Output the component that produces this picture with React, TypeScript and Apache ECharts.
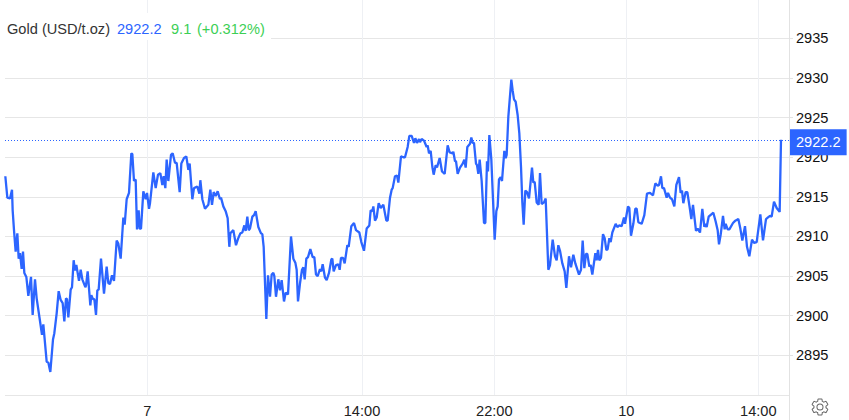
import React, { useEffect, useRef } from "react";
import * as echarts from "echarts";

const title = "Gold (USD/t.oz)";
const lastPrice = 2922.2;
const change = "9.1";
const changePct = "(+0.312%)";

// [position on the session scale, price]
const sessionA: number[][] = [
[16,2917.6],[22,2914.9],[30,2914.8],[36,2915.9],[38,2913.3],[42,2910.8],[47,2908.1],[52,2910.4],[56,2907.2],[60,2907.9],[65,2905.9],[69,2908.1],[73,2905.4],[79,2904.9],[85,2902.5],[93,2904.9],[98,2900.1],[105,2904.6],[110,2902.2],[118,2899.9],[126,2897.6],[130,2898.9],[133,2897.5],[140,2894.2],[145,2894.1],[151,2892.9],[159,2897],[163,2897.8],[170,2900.3],[176,2903.1],[182,2902],[188,2901.6],[193,2899.3],[198,2902.2],[201,2902.1],[205,2899.8],[212,2903.3],[216,2903.6],[221,2907],[225,2905.7],[229,2906.4],[237,2904.4],[242,2905.8],[247,2904.6],[256,2903.6],[258,2903.8],[263,2905.6],[271,2901.3],[274,2902.6],[279,2902.1],[283,2902.1],[288,2900.1],[292,2903.2],[296,2903.3],[303,2907.2],[312,2902.8],[320,2906.2],[325,2904.1],[330,2904],[336,2905.1],[342,2904.4],[350,2909.5],[355,2909.1],[362,2907.2],[370,2912.4],[374,2911.5],[380,2914.7],[387,2915.5],[394,2920.5],[397,2920.4],[402,2917],[407,2917.2],[411,2910.9],[416,2913.3],[419,2911],[423,2911],[430,2915.7],[437,2914.7],[441,2915.5],[447,2913.5],[450,2914.2],[460,2918.1],[467,2916.1],[474,2917.8],[481,2918],[487,2916.5],[491,2917.6],[496,2916.1],[500,2919.7],[505,2917],[513,2920.3],[518,2920.5],[525,2919.3],[530,2919.3],[539,2915.6],[544,2919.2],[552,2919.9],[559,2920.1],[565,2918.4],[569,2919.2],[577,2914.7],[582,2916.1],[592,2916.3],[598,2915.4],[601,2917.1],[607,2914.7],[615,2913.5],[625,2914],[631,2915.9],[636,2914],[641,2915.6],[647,2915.1],[653,2915.7],[660,2914.7],[663,2914.9],[670,2913.8],[677,2913.2],[683,2912.3],[688,2908.7],[691,2910.4],[700,2910.8],[708,2908.9],[714,2909.7],[721,2910.4],[727,2910.5],[733,2911.4],[737,2910.7],[742,2912.5],[746,2910.8],[750,2911],[757,2912.5],[762,2912.7],[767,2913.2],[775,2911.2],[783,2910.4],[787,2910.3],[791,2908.7],[799,2899.6],[804,2905.1],
];
const sessionB: number[][] = [
[0,2902.4],[5,2905.2],[10,2905.4],[13,2905],[18,2902.4],[25,2904.6],[30,2903.2],[35,2904.5],[42,2901.8],[47,2902.9],[54,2902.7],[63,2910],[70,2907.2],[76,2906.7],[80,2905.8],[84,2901.8],[90,2904.1],[96,2905.8],[100,2906.1],[104,2904.6],[109,2907.2],[114,2907.4],[121,2908.4],[128,2907.4],[133,2907.4],[138,2905.2],[143,2905],[150,2905.9],[154,2905.6],[158,2906.5],[165,2904.8],[170,2904.5],[177,2905.4],[184,2907.1],[187,2907.2],[191,2905.6],[198,2906.4],[205,2906.5],[209,2905.8],[213,2907.3],[219,2907.3],[224,2906.6],[232,2908.9],[236,2908.7],[244,2911.3],[252,2911.7],[258,2910.8],[268,2910.5],[274,2909.3],[282,2908.2],[290,2911],[298,2911.4],[302,2913.3],[307,2913.2],[310,2913.8],[315,2912],[320,2912.4],[326,2914.2],[332,2913.6],[340,2914],[349,2912],[353,2912],[360,2914.9],[365,2915.9],[368,2916.1],[375,2917.6],[381,2917.7],[385,2916.8],[393,2920.1],[400,2920],[405,2920],[413,2921.3],[418,2922.7],[425,2922.7],[432,2921.8],[436,2922.4],[441,2921.8],[447,2922.3],[450,2921.9],[455,2922.3],[462,2922.1],[470,2921.3],[473,2921.5],[477,2920.5],[482,2920.8],[487,2918.8],[491,2917.8],[497,2919],[501,2918.7],[509,2919.9],[516,2918.2],[524,2917.9],[533,2921.5],[539,2920.6],[548,2920.5],[550,2920.7],[555,2919.5],[558,2919.5],[563,2917.9],[570,2918.7],[578,2919.2],[583,2919.7],[587,2918.7],[592,2921.3],[600,2921.7],[604,2922.5],[608,2921.8],[612,2921.8],[618,2919.2],[621,2919],[625,2917.9],[629,2919.7],[635,2917],[642,2911.7],[646,2911.7],[651,2919.5],[654,2918.2],[658,2922.8],[664,2919.7],[669,2914.7],[674,2909.6],[679,2913.2],[683,2913.8],[687,2917.2],[692,2917.5],[696,2917],[703,2920.8],[707,2919.9],[710,2920.3],[715,2925.1],[719,2927.2],[724,2929.8],[728,2928.4],[732,2927.3],[737,2927],[743,2925.3],[748,2923],[753,2918.8],[757,2914.3],[761,2911.5],[766,2915.8],[771,2915.6],[777,2914.8],[786,2918.7],[790,2916.8],[794,2916.9],[800,2914.3],[806,2914],[810,2918],[815,2914.1],[822,2914.3],[827,2914.8],[835,2905.8],
];
const sessionC: number[][] = [
[0,2906.4],[8,2909.6],[15,2907.5],[20,2907],[25,2908.9],[30,2908.2],[37,2906.6],[44,2905.6],[49,2903.5],[57,2907.5],[63,2906.1],[70,2907.7],[76,2906.6],[87,2905.2],[93,2905.8],[98,2909.5],[103,2906],[108,2907.8],[112,2907.8],[118,2906.2],[122,2906.4],[127,2905.2],[136,2907.9],[140,2907],[144,2908.3],[148,2907],[153,2907.3],[159,2910.3],[164,2909.8],[169,2908.3],[173,2908.4],[178,2909.8],[182,2909.3],[187,2910.5],[197,2911.6],[202,2911.2],[208,2911.4],[215,2911.3],[222,2912.4],[225,2911.6],[234,2913.8],[238,2913.6],[243,2910.1],[250,2911.6],[256,2913.5],[260,2913.5],[265,2911.8],[275,2911.6],[283,2912.7],[291,2915.4],[300,2915.5],[309,2915.2],[316,2916.7],[323,2916.4],[327,2916.5],[333,2917.6],[337,2916.1],[342,2916.1],[350,2914.9],[354,2915.5],[360,2914.9],[366,2914.7],[373,2913.8],[379,2916.5],[387,2917.5],[392,2915.5],[396,2915.8],[400,2914.2],[407,2915.6],[412,2915.6],[420,2913.4],[424,2912.2],[429,2914],[438,2910.7],[443,2911],[450,2910.5],[457,2913.5],[463,2911.2],[466,2911.6],[470,2911.2],[476,2912.5],[484,2912.8],[490,2913],[497,2911.9],[503,2910.8],[507,2909],[512,2910.2],[519,2912.6],[524,2910.9],[527,2911.6],[533,2910.9],[538,2910.9],[549,2911.7],[556,2912],[565,2912.2],[571,2911],[577,2909.5],[585,2911.3],[591,2908.7],[598,2907.5],[606,2909.6],[612,2909.2],[620,2909.3],[631,2912.8],[639,2909.5],[648,2912.2],[654,2912.4],[660,2912.6],[665,2912.5],[672,2914.4],[680,2913.6],[689,2913.1],[693,2922.2],
];
const sessionBStart = 810;
const sessionCStart = 1650;

const xTickPositions = [442, 1086, 1483, 1879, 2275];
const xTickLabels = ["7", "14:00", "22:00", "10", "14:00"];

const BLUE = "#2c65ff";
const GREEN = "#3ccf55";
const FONT = '"Liberation Sans", Arial, sans-serif';

const GEAR =
  "M19.14 12.94c.04-.3.06-.61.06-.94 0-.32-.02-.64-.07-.94l2.03-1.58c.18-.14.23-.41.12-.61l-1.92-3.32c-.12-.22-.37-.29-.59-.22l-2.39.96c-.5-.38-1.03-.7-1.62-.94l-.36-2.54c-.04-.24-.24-.41-.48-.41h-3.84c-.24 0-.43.17-.47.41l-.36 2.54c-.59.24-1.13.57-1.62.94l-2.39-.96c-.22-.08-.47 0-.59.22L2.74 8.87c-.12.21-.08.47.12.61l2.03 1.58c-.05.3-.09.63-.09.94s.02.64.07.94l-2.03 1.58c-.18.14-.23.41-.12.61l1.92 3.32c.12.22.37.29.59.22l2.39-.96c.5.38 1.03.7 1.62.94l.36 2.54c.05.24.24.41.48.41h3.84c.24 0 .44-.17.47-.41l.36-2.54c.59-.24 1.13-.56 1.62-.94l2.39.96c.22.08.47 0 .59-.22l1.92-3.32c.12-.22.07-.47-.12-.61l-2.01-1.58zM12 15.6c-1.98 0-3.6-1.62-3.6-3.6s1.62-3.6 3.6-3.6 3.6 1.62 3.6 3.6-1.62 3.6-3.6 3.6z";
echarts.graphic.registerShape("gear", echarts.graphic.extendPath(GEAR, {}));

export default function App() {
  const ref = useRef<HTMLDivElement>(null);
  useEffect(() => {
    const chart = echarts.init(ref.current!, undefined, { renderer: "svg" });
    const line = [
      ...sessionA,
      ...sessionB.map(([s, v]) => [s + sessionBStart, v]),
      ...sessionC.map(([s, v]) => [s + sessionCStart, v]),
    ];
    const headText = (x: number, text: string, fill: string) => ({
      type: "text",
      x,
      y: 21.5,
      z: 11,
      style: { text, fill, font: `14.6px ${FONT}` },
    });
    chart.setOption({
      animation: false,
      grid: { left: 5, right: 60, top: 0, bottom: 25 },
      xAxis: {
        type: "value",
        min: 15,
        max: 2367,
        axisLine: { show: false },
        axisTick: { show: false, customValues: xTickPositions },
        axisLabel: {
          customValues: xTickPositions,
          formatter: (v: number) => xTickLabels[xTickPositions.indexOf(v)],
          color: "#222",
          fontFamily: FONT,
          fontSize: 14.6,
          margin: 8,
        },
        splitLine: { show: true, lineStyle: { color: "#eef0f4", width: 1 } },
      },
      yAxis: {
        type: "value",
        position: "right",
        min: 2890,
        max: 2939.84,
        interval: 5,
        axisLine: { show: true, lineStyle: { color: "#e2e2e2", width: 1 } },
        axisTick: { show: true, length: 4, lineStyle: { color: "#e2e2e2" } },
        axisLabel: {
          color: "#111",
          fontFamily: FONT,
          fontSize: 14.6,
          margin: 7,
          padding: [0, 0, 3, 0],
          showMinLabel: false,
          showMaxLabel: false,
          formatter: (v: number) => String(v),
        },
        splitLine: {
          show: true,
          showMaxLine: false,
          lineStyle: { color: "#e6e6e6", width: 1 },
        },
      },
      series: [
        {
          type: "line",
          data: line,
          showSymbol: false,
          symbol: "none",
          clip: false,
          lineStyle: { color: BLUE, width: 2.3 },
          markLine: {
            silent: true,
            symbol: "none",
            precision: 1,
            lineStyle: { color: BLUE, type: [1, 2], width: 1 },
            data: [{ yAxis: lastPrice }],
            label: {
              position: "end",
              distance: 1,
              offset: [0, 2.5],
              formatter: "2922.2",
              color: "#fff",
              backgroundColor: BLUE,
              fontFamily: FONT,
              fontSize: 14.6,
              padding: [6, 6, 5, 6],
            },
          },
        },
      ],
      graphic: [
        { type: "rect", z: 10, shape: { x: 5, y: 13, width: 266, height: 27 }, style: { fill: "#fff" } },
        headText(7, title, "#333"),
        headText(117, String(lastPrice), BLUE),
        headText(171, change, GREEN),
        headText(197, changePct, GREEN),
        {
          type: "line",
          z: 1,
          shape: { x1: 789.5, y1: 395, x2: 789.5, y2: 420 },
          style: { stroke: "#e2e2e2", lineWidth: 1 },
        },
        {
          type: "gear",
          x: 809.9,
          y: 396.9,
          scaleX: 0.84,
          scaleY: 0.84,
          style: { fill: "none", stroke: "#666", lineWidth: 1.2 },
        },
      ],
    });
    return () => chart.dispose();
  }, []);
  return <div ref={ref} style={{ position: "absolute", left: 0, top: 0, width: 849, height: 420, background: "#fff" }} />;
}
